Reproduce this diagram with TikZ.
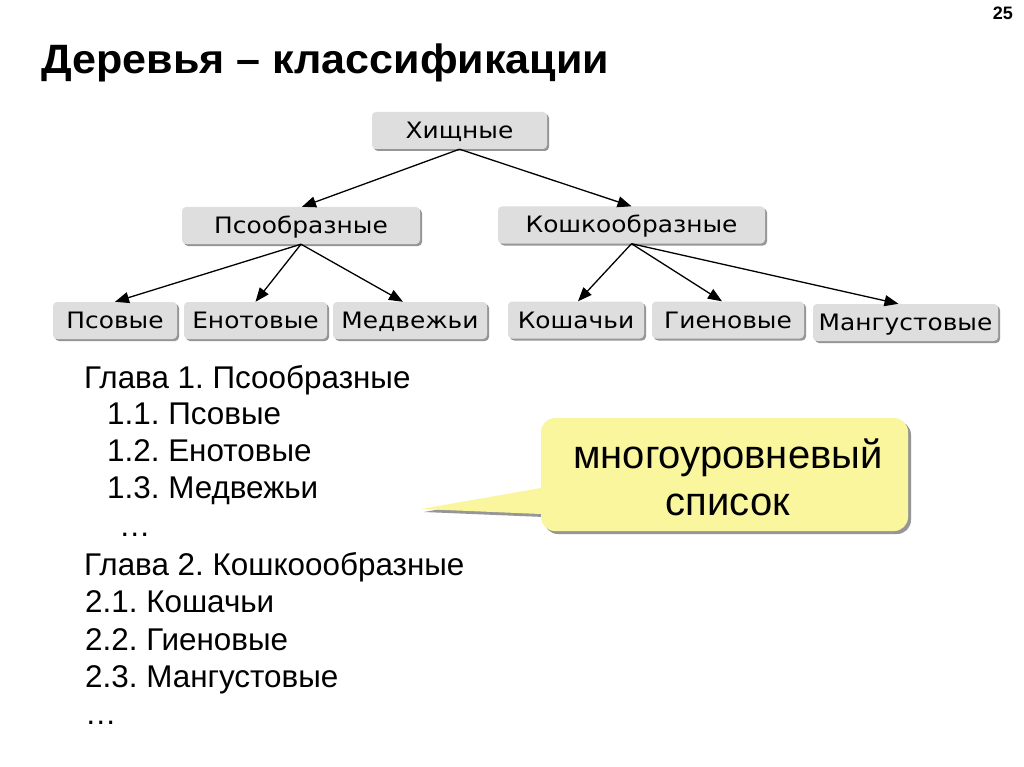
\documentclass[tikz,border=0pt]{standalone}
\usepackage{fontspec}
\setmainfont{Liberation Sans}
\newfontfamily\boxfont[FakeStretch=1.1]{DejaVu Sans}
\newfontfamily\titlefont[FakeStretch=1.05]{Liberation Sans}
\usetikzlibrary{shadows,arrows.meta}
\definecolor{boxgray}{RGB}{222,222,222}
\definecolor{shadowgray}{RGB}{150,150,150}
\definecolor{callfill}{RGB}{250,246,158}
\frenchspacing
\begin{document}
\begin{tikzpicture}[x=1pt,y=-1pt,
  treebox/.style={fill=boxgray, rounded corners=4pt, inner sep=0pt,
    minimum height=37pt, text height=16pt, text depth=0pt,
    font=\boxfont\fontsize{22.6}{26}\selectfont,
    drop shadow={shadow xshift=2pt, shadow yshift=-2pt, fill=shadowgray, opacity=1}},
  link/.style={line width=1.3pt, -{Triangle[length=14pt,width=11pt]}},
  listline/.style={anchor=base west, inner sep=0pt, font=\fontsize{31.4}{36}\selectfont},
  callline/.style={anchor=base, inner sep=0pt, font=\fontsize{40}{47}\selectfont},
  callshadow/.style={drop shadow={shadow xshift=3pt, shadow yshift=-3pt, fill=shadowgray, opacity=1}}
]
\useasboundingbox (0,0) rectangle (1024,767);
\fill[white] (0,0) rectangle (1024,767);

% title and page number
\node[anchor=base west, inner sep=0pt, font=\titlefont\bfseries\fontsize{41}{48}\selectfont] (title) at (41,74) {Деревья – классификации};
\node[anchor=base east, inner sep=0pt, font=\bfseries\fontsize{18}{22}\selectfont] (pnum) at (1013,20) {25};

% tree
\node[treebox, minimum width=175pt] (hish) at (459.5,130.5) {Хищные};
\node[treebox, minimum width=238pt] (psoob) at (301,225.5) {Псообразные};
\node[treebox, minimum width=267pt] (koshk) at (631.5,225) {Кошкообразные};
\node[treebox, minimum width=124pt] (psov) at (115,320.5) {Псовые};
\node[treebox, minimum width=143pt] (enot) at (255.5,320.5) {Енотовые};
\node[treebox, minimum width=154pt] (medv) at (410,320.5) {Медвежьи};
\node[treebox, minimum width=136pt] (kosh) at (576,320) {Кошачьи};
\node[treebox, minimum width=152pt] (gien) at (728,320) {Гиеновые};
\node[treebox, minimum width=185pt] (mang) at (905.5,322.5) {Мангустовые};

\draw[link] (hish.south) -- ([xshift=1pt]psoob.north);
\draw[link] (hish.south) -- (koshk.north);
\draw[link] (psoob.south) -- (psov.north);
\draw[link] (psoob.south) -- (enot.north);
\draw[link] (psoob.south) -- ([xshift=-7pt]medv.north);
\draw[link] (koshk.south) -- ([xshift=2pt]kosh.north);
\draw[link] (koshk.south) -- ([xshift=-6pt]gien.north);
\draw[link] (koshk.south) -- ([xshift=-7pt]mang.north);

% list
\node[listline] (l1) at (84,388) {Глава 1. Псообразные};
\node[listline] (l2) at (107,424) {1.1. Псовые};
\node[listline] (l3) at (107,461) {1.2. Енотовые};
\node[listline] (l4) at (107,498) {1.3. Медвежьи};
\node[listline] (l5) at (119,536) {…};
\node[listline] (l6) at (84,575) {Глава 2. Кошкоообразные};
\node[listline] (l7) at (85,612) {2.1. Кошачьи};
\node[listline] (l8) at (85,650) {2.2. Гиеновые};
\node[listline] (l9) at (85,687) {2.3. Мангустовые};
\node[listline] (l10) at (85,724) {…};

% callout
\fill[callfill, callshadow] (421,509) -- (541,488) [rounded corners=14pt] -- (541,418) -- (908,418) -- (908,531) -- (541,531) [sharp corners] -- (541,514) -- cycle;
\node[callline] (call1) at (728,468) {многоуровневый};
\node[callline] (call2) at (728,515) {список};
\end{tikzpicture}
\end{document}
